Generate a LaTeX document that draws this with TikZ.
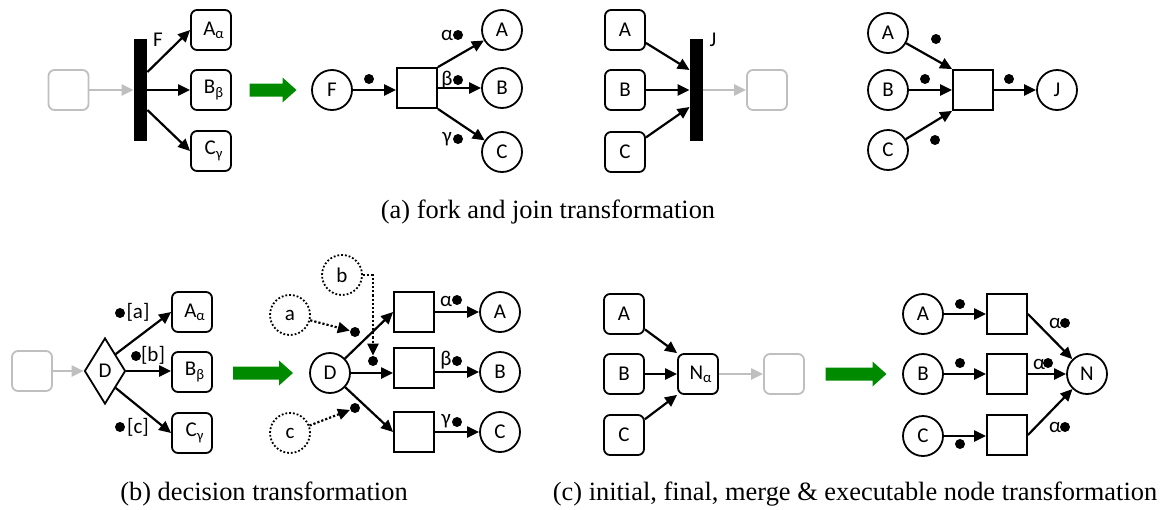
\documentclass[tikz,border=0pt]{standalone}
\usepackage{fontspec}
\setmainfont{Liberation Serif}
\newfontfamily\calibri{Carlito}
\usetikzlibrary{arrows.meta,shapes.geometric}
\definecolor{arrowgreen}{RGB}{0,138,0}

\begin{document}
\begin{tikzpicture}[x=0.5pt, y=-0.5pt, >={Triangle[length=6pt,width=5.5pt]}]

	\tikzset{
		lbl/.style={font=\calibri\fontsize{10.5}{12}\selectfont, inner sep=0pt},
		actbox/.style={lbl, draw, rounded corners=3pt, minimum size=20pt, line width=0.9pt},
		ghostbox/.style={actbox, draw=black!25},
		forkbar/.style={fill=black, inner sep=0pt, minimum width=6.5pt, minimum height=51pt},
		place/.style={lbl, circle, draw, minimum size=20pt, line width=0.9pt},
		guard/.style={place, densely dotted},
		trans/.style={draw, rectangle, minimum size=20pt, inner sep=0pt, line width=0.9pt},
		decision/.style={lbl, diamond, draw, minimum width=20.5pt, minimum height=33pt, line width=0.9pt},
		token/.style={circle, fill, inner sep=0pt, minimum size=5pt},
		flow/.style={->, line width=1.1pt},
		ghostflow/.style={flow, draw=black!25},
		guardflow/.style={flow, densely dotted},
		caption/.style={font=\fontsize{13.2}{15}\selectfont, inner sep=0pt},
	}

	\useasboundingbox (0,0) rectangle (1161,509);

	% green transformation arrows
	\foreach \x/\y/\l in {273/90/47, 263/373/60, 856/374/61}
		\fill[arrowgreen] ({\x-\l/2},{\y-6.5}) -- ({\x+\l/2-14},{\y-6.5}) -- ({\x+\l/2-14},{\y-12.5})
			-- ({\x+\l/2},\y) -- ({\x+\l/2-14},{\y+12.5}) -- ({\x+\l/2-14},{\y+6.5}) -- ({\x-\l/2},{\y+6.5}) -- cycle;

	% (a) fork
	\node[ghostbox] (fin) at (68.5,90) {};
	\node[forkbar] (F) at (140.5,90) {};
	\node[lbl] (Flab) at (158,40) {F};
	\node[actbox] (Fa) at (211,30) {\hspace*{3pt}A\textsubscript{α}};
	\node[actbox] (Fb) at (211,90) {\hspace*{3pt}B\textsubscript{β}};
	\node[actbox] (Fc) at (211,151) {\hspace*{3pt}C\textsubscript{γ}};
	\draw[ghostflow] (fin) -- (F);
	\draw[flow] ([yshift=9pt]F.east) -- (Fa.west);
	\draw[flow] (F.east) -- (Fb);
	\draw[flow] ([yshift=-10pt]F.east) -- (Fc.west);

	\node[place] (pF) at (332,90) {F};
	\node[trans] (tF) at (417,88) {};
	\node[place] (pFa) at (502,30) {A};
	\node[place] (pFb) at (502,88) {B};
	\node[place] (pFc) at (502,152) {C};
	\node[token] (kF) at (369,79) {};
	\draw[flow] (pF) -- (pF -| tF.west);
	\draw[flow] (tF.north east) -- (pFa);
	\draw[flow] (tF.east) -- (pFb);
	\draw[flow] (tF.south east) -- (pFc);
	\node[lbl] (wFa) at (447,35) {α};
	\node[token] (kFa) at (458,35) {};
	\node[lbl] (wFb) at (447,80) {β};
	\node[token] (kFb) at (458,80) {};
	\node[lbl] (wFc) at (447,139) {γ};
	\node[token] (kFc) at (458,139) {};

	% (a) join
	\node[actbox] (Ja) at (625,30) {A};
	\node[actbox] (Jb) at (625,90) {B};
	\node[actbox] (Jc) at (625,152) {C};
	\node[forkbar] (J) at (696.5,90) {};
	\node[lbl] (Jlab) at (713,40) {J};
	\node[ghostbox] (jout) at (767,90) {};
	\draw[flow] (Ja) -- ([yshift=10pt]J.west);
	\draw[flow] (Jb) -- (J);
	\draw[flow] (Jc) -- ([yshift=-8.5pt]J.west);
	\draw[ghostflow] (J) -- (jout);

	\node[place] (pJa) at (888,33) {A};
	\node[place] (pJb) at (888,90) {B};
	\node[place] (pJc) at (888,150) {C};
	\node[trans] (tJ) at (973,90) {};
	\node[place] (pJ) at (1057,90) {J};
	\draw[flow] (pJa) -- (tJ.north west);
	\draw[flow] (pJb) -- (tJ);
	\draw[flow] (pJc) -- (tJ.south west);
	\draw[flow] (tJ) -- (pJ);
	\node[token] (kJa) at (936,39) {};
	\node[token] (kJb) at (925,79) {};
	\node[token] (kJc) at (935,140) {};
	\node[token] (kJ) at (1009,79) {};

	\node[caption] (capa) at (548,212) {(a) fork and join transformation};

	% (b) decision
	\node[ghostbox] (din) at (32,371) {};
	\node[decision] (D) at (105,371) {D};
	\node[actbox] (Da) at (192,312) {\hspace*{3pt}A\textsubscript{α}};
	\node[actbox] (Db) at (192,372) {\hspace*{3pt}B\textsubscript{β}};
	\node[actbox] (Dc) at (192,433) {\hspace*{3pt}C\textsubscript{γ}};
	\draw[ghostflow] (din) -- (D);
	\draw[flow] (D.north east) -- (Da.west);
	\draw[flow] (D.east) -- (D.east -| Db.west);
	\draw[flow] (D.south east) -- (Dc.west);
	\node[token] (kDa) at (120,313) {};
	\node[lbl] (gDa) at (138,312) {[a]};
	\node[token] (kDb) at (136,356) {};
	\node[lbl] (gDb) at (153,355) {[b]};
	\node[token] (kDc) at (120,427) {};
	\node[lbl] (gDc) at (138,427) {[c]};

	\node[place] (pD) at (330,373) {D};
	\node[guard] (ga) at (290,315) {a};
	\node[guard] (gb) at (342,275) {b};
	\node[guard] (gc) at (290,433) {c};
	\node[trans] (tDa) at (414,312) {};
	\node[trans] (tDb) at (414,368) {};
	\node[trans] (tDc) at (414,432) {};
	\node[place] (pDa) at (500,312) {A};
	\node[place] (pDb) at (500,372) {B};
	\node[place] (pDc) at (500,432) {C};
	\node[token] (kga) at (355,332) {};
	\node[token] (kgb) at (373,361) {};
	\node[token] (kgc) at (355,408) {};
	\draw[guardflow] (ga) -- (kga);
	\draw[guardflow] (gb.east) -| (kgb);
	\draw[guardflow] (gc) -- (kgc);
	\draw[flow] (pD) -- (tDa.west);
	\draw[flow] (pD) -- (pD -| tDb.west);
	\draw[flow] (pD) -- (tDc.west);
	\draw[flow] (tDa) -- (pDa);
	\draw[flow] (tDb.east |- pDb) -- (pDb);
	\draw[flow] (tDc) -- (pDc);
	\node[lbl] (wDa) at (446,301) {α};
	\node[token] (kDa2) at (457,300) {};
	\node[lbl] (wDb) at (446,360) {β};
	\node[token] (kDb2) at (457,361) {};
	\node[lbl] (wDc) at (446,421) {γ};
	\node[token] (kDc2) at (457,422) {};

	\node[caption] (capb) at (264,494) {(b) decision transformation};

	% (c) merge
	\node[actbox] (Ma) at (624,314) {A};
	\node[actbox] (Mb) at (624,374) {B};
	\node[actbox] (Mc) at (624,435) {C};
	\node[actbox] (N) at (698,374) {\hspace*{3pt}N\textsubscript{α}};
	\node[ghostbox] (nout) at (784,374) {};
	\draw[flow] (Ma) -- (N.north west);
	\draw[flow] (Mb) -- (N);
	\draw[flow] (Mc) -- (N.south west);
	\draw[ghostflow] (N) -- (nout);

	\node[place] (pMa) at (923,314) {A};
	\node[place] (pMb) at (923,374) {B};
	\node[place] (pMc) at (923,436) {C};
	\node[trans] (tMa) at (1007,314) {};
	\node[trans] (tMb) at (1007,374) {};
	\node[trans] (tMc) at (1007,435) {};
	\node[place] (pN) at (1087,374) {N};
	\draw[flow] (pMa) -- (tMa);
	\draw[flow] (pMb) -- (tMb);
	\draw[flow] (pMc) -- (pMc -| tMc.west);
	\draw[flow] (tMa.east) -- (pN);
	\draw[flow] (tMb) -- (pN);
	\draw[flow] (tMc.east) -- (pN);
	\node[token] (kMa) at (960,304) {};
	\node[token] (kMb) at (960,363) {};
	\node[token] (kMc) at (960,444) {};
	\node[lbl] (wMa) at (1055,323) {α};
	\node[token] (kNa) at (1065,323) {};
	\node[lbl] (wMb) at (1039,364) {α};
	\node[token] (kNb) at (1048,363) {};
	\node[lbl] (wMc) at (1055,427) {α};
	\node[token] (kNc) at (1065,427) {};

	\node[caption] (capc) at (855,494) {(c) initial, final, merge \& executable node transformation};

\end{tikzpicture}
\end{document}
